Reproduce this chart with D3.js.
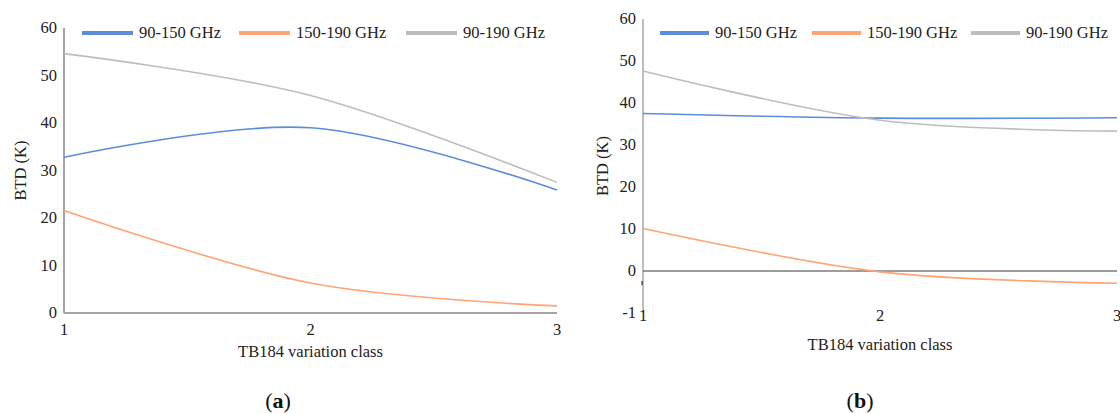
<!DOCTYPE html>
<html>
<head>
<meta charset="utf-8">
<script src="https://cdn.jsdelivr.net/npm/d3@7"></script>
<style>
  body { margin: 0; background: #fff; }
</style>
</head>
<body>
<div id="chart"></div>
<script>
// categories and series
const classes = [1, 2, 3];
const seriesNames = ["90-150 GHz", "150-190 GHz", "90-190 GHz"];
const seriesColors = ["#5b8ddb", "#ffa472", "#bdbdbd"];

// panel (a)
const a_90_150 = [32.8, 39.0, 25.9];
const a_150_190 = [21.6, 6.3, 1.5];
const a_90_190 = [54.6, 45.8, 27.5];

// panel (b)
const b_90_150 = [37.5, 36.4, 36.5];
const b_150_190 = [10.1, -0.2, -2.9];
const b_90_190 = [47.6, 35.9, 33.3];

// y tick values / labels
const aTicks = [0, 10, 20, 30, 40, 50, 60];
const bTicks = [-10, 0, 10, 20, 30, 40, 50, 60];
const bTickLabels = ["-1", "0", "10", "20", "30", "40", "50", "60"];

const FONT = "'Liberation Serif', 'DejaVu Serif', serif";
const FS = "16.5px";
const W = 1120, H = 414;
const svg = d3.select("#chart").append("svg")
    .attr("width", W)
    .attr("height", H)
    .style("display", "block");

svg.append("rect").attr("width", W).attr("height", H).attr("fill", "#fff");

function addText(sel) {
    return sel.append("text")
        .attr("font-family", FONT)
        .attr("fill", "#222");
}

function drawPanel(opts) {
    const x = d3.scaleLinear().domain([1, 3]).range(opts.xRange);
    const y = d3.scaleLinear().domain(opts.yDomain).range(opts.yRange);
    const g = svg.append("g");

    // y axis line
    g.append("line")
        .attr("x1", x(1)).attr("x2", x(1))
        .attr("y1", opts.yRange[1]).attr("y2", opts.yRange[0])
        .attr("stroke", opts.yAxisColor)
        .attr("stroke-width", opts.yAxisWidth);

    // baseline at zero
    g.append("line")
        .attr("x1", x(1)).attr("x2", x(3))
        .attr("y1", y(0)).attr("y2", y(0))
        .attr("stroke", opts.zeroColor)
        .attr("stroke-width", opts.zeroWidth);

    // y tick labels
    g.selectAll(".ytick")
        .data(opts.ticks)
        .enter()
        .append("text")
        .attr("class", "ytick")
        .attr("font-family", FONT)
        .attr("x", x(1) - 7)
        .attr("y", d => y(d))
        .attr("dy", "0.33em")
        .attr("text-anchor", "end")
        .attr("font-size", FS)
        .attr("fill", "#222")
        .text((d, i) => opts.tickLabels ? opts.tickLabels[i] : d);

    // x tick labels
    g.selectAll(".xtick")
        .data(classes)
        .enter()
        .append("text")
        .attr("class", "xtick")
        .attr("font-family", FONT)
        .attr("x", d => x(d))
        .attr("y", opts.xLabelY)
        .attr("dy", "0.33em")
        .attr("text-anchor", "middle")
        .attr("font-size", FS)
        .attr("fill", "#222")
        .text(d => d);

    // axis titles
    addText(g)
        .attr("x", (opts.xRange[0] + opts.xRange[1]) / 2)
        .attr("y", opts.xTitleY)
        .attr("dy", "0.33em")
        .attr("text-anchor", "middle")
        .attr("font-size", FS)
        .text("TB184 variation class");

    addText(g)
        .attr("transform", `translate(${opts.yTitleX},${(opts.yRange[0] + opts.yRange[1]) / 2}) rotate(-90)`)
        .attr("dy", "0.33em")
        .attr("text-anchor", "middle")
        .attr("font-size", FS)
        .text("BTD (K)");

    // series lines
    const line = d3.line()
        .x((d, i) => x(classes[i]))
        .y(d => y(d))
        .curve(d3.curveCardinal);

    g.selectAll(".series")
        .data(opts.series)
        .enter()
        .append("path")
        .attr("class", "series")
        .attr("d", d => line(d))
        .attr("fill", "none")
        .attr("stroke", (d, i) => seriesColors[i])
        .attr("stroke-width", 1.6);

    // legend
    const lg = g.selectAll(".legend")
        .data(seriesNames)
        .enter()
        .append("g")
        .attr("class", "legend")
        .attr("transform", (d, i) => `translate(${opts.legendX[i]},${opts.legendY})`);

    lg.append("line")
        .attr("x1", 0).attr("x2", opts.legendLine)
        .attr("y1", 0).attr("y2", 0)
        .attr("stroke", (d, i) => seriesColors[i])
        .attr("stroke-width", 4);

    lg.append("text")
        .attr("font-family", FONT)
        .attr("x", opts.legendLine + 6)
        .attr("y", 0)
        .attr("dy", "0.33em")
        .attr("font-size", FS)
        .attr("fill", "#222")
        .text(d => d);

    // caption
    const cap = addText(g)
        .attr("x", opts.captionX)
        .attr("y", 401)
        .attr("dy", "0.33em")
        .attr("text-anchor", "middle")
        .attr("font-size", "22px")
        .attr("fill", "#111");
    cap.append("tspan").text("(");
    cap.append("tspan").attr("font-weight", "bold").text(opts.caption);
    cap.append("tspan").text(")");

    return { x, y, g };
}

drawPanel({
    xRange: [64, 557],
    yDomain: [0, 60],
    yRange: [313, 28],
    ticks: aTicks,
    series: [a_90_150, a_150_190, a_90_190],
    yAxisColor: "#a3a3a3",
    yAxisWidth: 2,
    zeroColor: "#a3a3a3",
    zeroWidth: 2,
    xLabelY: 330,
    xTitleY: 352,
    yTitleX: 21,
    legendX: [82, 239, 406],
    legendY: 33,
    legendLine: 51,
    caption: "a",
    captionX: 278
});

const b = drawPanel({
    xRange: [643, 1117],
    yDomain: [-10, 60],
    yRange: [313, 19],
    ticks: bTicks,
    tickLabels: bTickLabels,
    series: [b_90_150, b_150_190, b_90_190],
    yAxisColor: "#9a9a9a",
    yAxisWidth: 1.3,
    zeroColor: "#3a3a3a",
    zeroWidth: 1,
    xLabelY: 316,
    xTitleY: 345,
    yTitleX: 603,
    legendX: [660, 812, 971],
    legendY: 33,
    legendLine: 49,
    caption: "b",
    captionX: 860
});

// small break mark on axis (b)
b.g.append("line")
    .attr("x1", b.x(1) - 1).attr("x2", b.x(1) - 1)
    .attr("y1", b.y(-2.4)).attr("y2", b.y(-3.4))
    .attr("stroke", "#333")
    .attr("stroke-width", 1.2);
</script>
</body>
</html>
